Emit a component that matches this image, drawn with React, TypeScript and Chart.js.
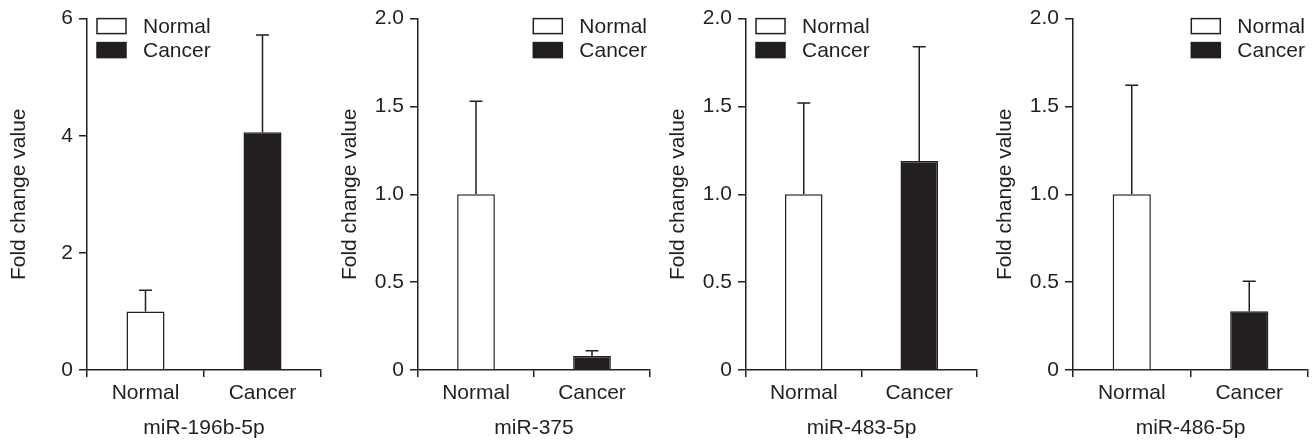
import React, { useEffect, useRef } from "react";
import { Chart, registerables } from "chart.js";

Chart.register(...registerables);

const categories = ["Normal", "Cancer"];
const seriesLabels = ["Normal", "Cancer"];
const panelTitles = ["miR-196b-5p", "miR-375", "miR-483-5p", "miR-486-5p"];
const normalMeans = [1.0, 1.0, 1.0, 1.0];
const normalErrors = [0.36, 0.53, 0.52, 0.62];
const cancerMeans = [4.06, 0.08, 1.19, 0.335];
const cancerErrors = [1.66, 0.03, 0.65, 0.17];
const yMaxes = [6, 2, 2, 2];
const ySteps = [2, 0.5, 0.5, 0.5];
const legendAligns = ["left", "right", "left", "right"];

const axisXs = [87, 418, 746, 1073];
const plotWidths = [234, 232, 231, 235];

const INK = "#231f20";
const FONT = "'Liberation Sans', Arial, Helvetica, sans-serif";
const FS = 21;
const LEFT_W = 87;
const RIGHT_PAD = 5;
const H = 441;

const errorBarPlugin = {
  id: "errorBars",
  afterDatasetsDraw(chart: any) {
    const ctx = chart.ctx;
    const yScale = chart.scales.y;
    chart.data.datasets.forEach((ds: any, i: number) => {
      const meta = chart.getDatasetMeta(i);
      meta.data.forEach((el: any, j: number) => {
        const v = ds.data[j];
        if (v === null || v === undefined) return;
        const err = ds.errors[j];
        const yTop = yScale.getPixelForValue(v + err);
        const yBase = yScale.getPixelForValue(v);
        ctx.save();
        ctx.strokeStyle = INK;
        ctx.lineWidth = 1.5;
        ctx.beginPath();
        ctx.moveTo(el.x, yBase);
        ctx.lineTo(el.x, yTop);
        ctx.moveTo(el.x - 6.5, yTop);
        ctx.lineTo(el.x + 6.5, yTop);
        ctx.stroke();
        ctx.restore();
      });
    });
  },
};

const boxLegendPlugin = {
  id: "boxLegend",
  afterDraw(chart: any, _args: any, opts: any) {
    const ctx = chart.ctx;
    const area = chart.chartArea;
    ctx.save();
    ctx.font = `${FS}px ${FONT}`;
    const labels = chart.data.datasets.map((d: any) => d.label);
    const maxW = Math.max(...labels.map((l: string) => ctx.measureText(l).width));
    const boxW = 29;
    const boxH = 15;
    const gap = 17;
    let boxX: number;
    if (opts.align === "right") {
      const textLeft = area.right - 3 - maxW;
      boxX = textLeft - gap - boxW;
    } else {
      boxX = area.left + 10;
    }
    const textX = boxX + boxW + gap;
    chart.data.datasets.forEach((ds: any, i: number) => {
      const by = area.top + i * 24;
      ctx.fillStyle = ds.backgroundColor;
      ctx.fillRect(boxX, by, boxW, boxH);
      ctx.strokeStyle = INK;
      ctx.lineWidth = 1.5;
      ctx.strokeRect(boxX, by, boxW, boxH);
      ctx.fillStyle = INK;
      ctx.textAlign = "left";
      ctx.textBaseline = "middle";
      ctx.fillText(ds.label, textX, by + boxH / 2 + 1);
    });
    ctx.restore();
  },
};

function Panel({ idx }: { idx: number }) {
  const ref = useRef<HTMLCanvasElement>(null);
  const width = LEFT_W + plotWidths[idx] + RIGHT_PAD;
  const left = axisXs[idx] - LEFT_W;

  useEffect(() => {
    if (!ref.current) return;
    const step = ySteps[idx];
    const chart = new Chart(ref.current, {
      type: "bar",
      data: {
        labels: categories,
        datasets: [
          {
            label: seriesLabels[0],
            data: [normalMeans[idx], null],
            errors: [normalErrors[idx], 0],
            backgroundColor: "#ffffff",
            borderColor: INK,
            borderWidth: 1.5,
            grouped: false,
            barPercentage: 0.325,
            categoryPercentage: 1,
          } as any,
          {
            label: seriesLabels[1],
            data: [null, cancerMeans[idx]],
            errors: [0, cancerErrors[idx]],
            backgroundColor: INK,
            borderColor: INK,
            borderWidth: 1.5,
            grouped: false,
            barPercentage: 0.325,
            categoryPercentage: 1,
          } as any,
        ],
      },
      options: {
        animation: false,
        responsive: false,
        devicePixelRatio: 1,
        layout: { padding: { left: 0, right: RIGHT_PAD, top: 18, bottom: 0 } },
        font: { family: FONT, size: FS },
        plugins: {
          legend: { display: false },
          tooltip: { enabled: false },
          boxLegend: { align: legendAligns[idx] },
        } as any,
        scales: {
          x: {
            offset: true,
            border: { display: true, color: INK, width: 1.5 },
            grid: {
              offset: true,
              drawOnChartArea: false,
              drawTicks: true,
              tickLength: 7,
              color: INK,
              lineWidth: 1.5,
            },
            ticks: { color: INK, font: { family: FONT, size: FS }, padding: 4, maxRotation: 0 },
            title: {
              display: true,
              text: panelTitles[idx],
              color: INK,
              font: { family: FONT, size: FS },
              padding: { top: 0, bottom: 0 },
            },
            afterFit: (s: any) => {
              s.height = 71;
            },
          },
          y: {
            min: 0,
            max: yMaxes[idx],
            border: { display: true, color: INK, width: 1.5 },
            grid: {
              drawOnChartArea: false,
              drawTicks: true,
              tickLength: 8,
              color: INK,
              lineWidth: 1.5,
            },
            ticks: {
              stepSize: step,
              color: INK,
              font: { family: FONT, size: FS },
              padding: 6,
              callback: (v: any) => (v === 0 ? "0" : step < 1 ? Number(v).toFixed(1) : String(v)),
            },
            title: {
              display: true,
              text: "Fold change value",
              color: INK,
              font: { family: FONT, size: FS },
              padding: { top: 7, bottom: 0 },
            },
            afterFit: (s: any) => {
              s.width = LEFT_W;
            },
          },
        },
      } as any,
      plugins: [errorBarPlugin, boxLegendPlugin],
    });
    return () => chart.destroy();
  }, [idx]);

  return (
    <canvas
      ref={ref}
      width={width}
      height={H}
      style={{ position: "absolute", left, top: 0, width, height: H }}
    />
  );
}

export default function App() {
  return (
    <div
      style={{
        position: "absolute",
        left: 0,
        top: 0,
        width: 1314,
        height: 441,
        background: "#ffffff",
        overflow: "hidden",
      }}
    >
      {panelTitles.map((_, i) => (
        <Panel key={i} idx={i} />
      ))}
    </div>
  );
}
